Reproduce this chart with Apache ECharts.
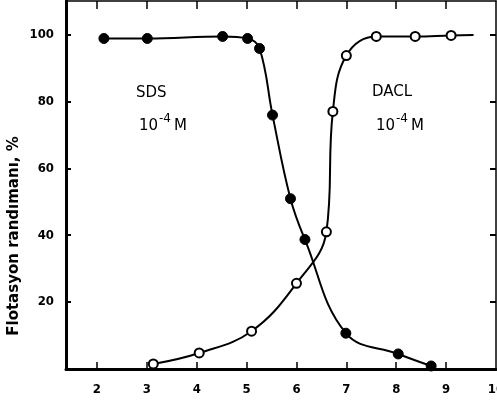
<!DOCTYPE html>
<html>
<head>
<meta charset="utf-8">
<script src="https://cdn.jsdelivr.net/npm/echarts@6/dist/echarts.min.js"></script>
<style>
html,body{margin:0;padding:0;background:#fff;}
#c{width:497px;height:403px;}
</style>
</head>
<body>
<div id="c"></div>
<script>
// pH values and flotation yield (%)
const sdsX = [2.14, 3.01, 4.52, 5.02, 5.26, 5.52, 5.88, 6.17, 6.99, 8.04, 8.70];
const sdsY = [98.8, 98.8, 99.4, 98.8, 95.8, 75.9, 50.9, 38.7, 10.7, 4.5, 0.9];
const daclX = [3.13, 4.05, 5.10, 6.00, 6.60, 6.73, 7.00, 7.60, 8.38, 9.10];
const daclY = [1.5, 4.8, 11.3, 25.6, 41.0, 77.0, 93.7, 99.4, 99.4, 99.7];
const daclLineEnd = [9.55, 99.8];
const xTickLabels = [2, 3, 4, 5, 6, 7, 8, 9, 10];
const xTicks = [2, 3, 4, 5, 6, 7, 8, 9];
const yTickLabels = [20, 40, 60, 80, 100];
const yTitle = 'Flotasyon randımanı, %';

const chart = echarts.init(document.getElementById('c'), null, {renderer: 'canvas'});
const FONT = 'DejaVu Sans';
const tickFont = {fontFamily: 'DejaVu Sans Condensed', fontWeight: 'bold', fontSize: 13, color: '#000'};

const sdsData = sdsX.map((x, i) => [x, sdsY[i]]);
const daclData = daclX.map((x, i) => [x, daclY[i]]);
daclData.push({value: daclLineEnd, symbol: 'none'});

function conc(x, y) {
  return {
    type: 'group', x: x, y: y, silent: true,
    children: [
      {type: 'text', x: 0, y: 0, style: {text: '10', fontFamily: FONT, fontSize: 15, fill: '#000', verticalAlign: 'middle'}},
      {type: 'text', x: 20, y: -7, style: {text: '-4', fontFamily: FONT, fontSize: 12, fill: '#000', verticalAlign: 'middle'}},
      {type: 'text', x: 35, y: 0, style: {text: 'M', fontFamily: FONT, fontSize: 15, fill: '#000', verticalAlign: 'middle'}}
    ]
  };
}

chart.setOption({
  backgroundColor: '#fff',
  animation: false,
  grid: {left: 66, right: 1, top: 1, bottom: 34, containLabel: false, outerBoundsMode: 'none'},
  xAxis: [{
    type: 'value', position: 'bottom', min: 1.38, max: 10,
    axisLine: {show: true, onZero: false, lineStyle: {color: '#000', width: 3}},
    axisTick: {show: true, inside: true, length: 7, customValues: xTicks, lineStyle: {color: '#000', width: 1.5}},
    axisLabel: {show: true, customValues: xTickLabels, margin: 14, ...tickFont},
    splitLine: {show: false}
  }, {
    type: 'value', position: 'top', min: 1.38, max: 10,
    axisLine: {show: true, onZero: false, lineStyle: {color: '#000', width: 1.5}},
    axisTick: {show: true, inside: true, length: 8, customValues: xTicks, lineStyle: {color: '#000', width: 1.5}},
    axisLabel: {show: false},
    splitLine: {show: false}
  }],
  yAxis: [{
    type: 'value', position: 'left', min: 0, max: 110,
    axisLine: {show: true, onZero: false, lineStyle: {color: '#000', width: 3}},
    axisTick: {show: true, inside: true, length: 5, customValues: yTickLabels, lineStyle: {color: '#000', width: 2}},
    axisLabel: {show: true, customValues: yTickLabels, margin: 12, ...tickFont},
    splitLine: {show: false}
  }, {
    type: 'value', position: 'right', min: 0, max: 110,
    axisLine: {show: true, onZero: false, lineStyle: {color: '#000', width: 1.5}},
    axisTick: {show: true, inside: true, length: 6, customValues: yTickLabels, lineStyle: {color: '#000', width: 2}},
    axisLabel: {show: false},
    splitLine: {show: false}
  }],
  series: [{
    name: 'SDS', type: 'line', data: sdsData,
    smooth: 0.4,
    symbol: 'circle', symbolSize: 10,
    itemStyle: {color: '#000', borderColor: '#000', borderWidth: 1},
    lineStyle: {color: '#000', width: 2}
  }, {
    name: 'DACL', type: 'line', data: daclData,
    smooth: 0.4,
    symbol: 'circle', symbolSize: 9,
    itemStyle: {color: '#fff', borderColor: '#000', borderWidth: 2},
    lineStyle: {color: '#000', width: 2}
  }],
  graphic: [
    {type: 'text', x: 14, y: 236, rotation: Math.PI / 2,
     style: {text: yTitle, fontFamily: FONT, fontWeight: 'bold', fontSize: 15, fill: '#000', align: 'center', verticalAlign: 'middle'}},
    {type: 'text', x: 136, y: 93,
     style: {text: 'SDS', fontFamily: FONT, fontSize: 15, fill: '#000', verticalAlign: 'middle'}},
    conc(139, 126),
    {type: 'text', x: 372, y: 92,
     style: {text: 'DACL', fontFamily: FONT, fontSize: 15, fill: '#000', verticalAlign: 'middle'}},
    conc(376, 126)
  ]
});
</script>
</body>
</html>
